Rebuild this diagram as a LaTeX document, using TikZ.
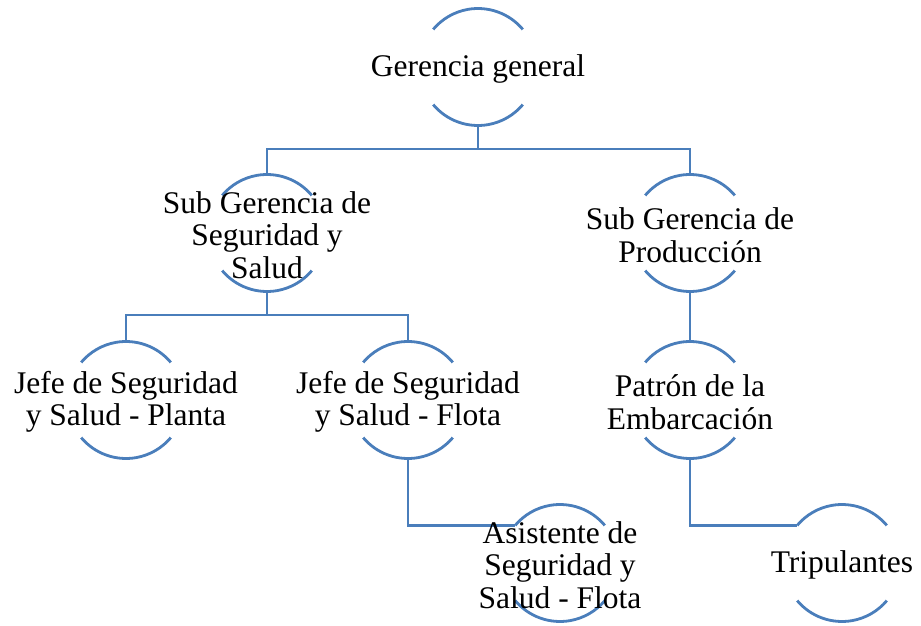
\documentclass[tikz,border=0pt]{standalone}
\usepackage{fontspec}
\setmainfont{Liberation Serif}
\definecolor{orgblue}{HTML}{4A7EBB}
\begin{document}
\begin{tikzpicture}[x=1pt,y=1pt,
 ring/.style={circle, minimum size=117pt, inner sep=0pt, outer sep=0pt, draw=none},
 lbl/.style={align=center, inner sep=0pt, yshift=-2pt, font=\fontsize{31.5}{32.5}\selectfont},
 wire/.style={draw=orgblue, line width=2.8pt},
 arcline/.style={draw=orgblue, line width=2.8pt}]
\useasboundingbox (0,0) rectangle (921,-626);
% ring shapes
\node[ring] (gg)  at (478,-67) {};
\node[ring] (sgs) at (267,-233) {};
\node[ring] (sgp) at (690,-233) {};
\node[ring] (jp)  at (126,-400) {};
\node[ring] (jfl) at (408,-400) {};
\node[ring] (pat) at (690,-400) {};
\node[ring] (asi) at (560,-563) {};
\node[ring] (tri) at (842,-563) {};
% connectors
\coordinate (b1) at (478,-149);
\coordinate (b2) at (267,-315);
\draw[wire] (gg.south) -- (b1);
\draw[wire] (sgs.north) |- (b1) -| (sgp.north);
\draw[wire] (sgs.south) -- (b2);
\draw[wire] (jp.north) |- (b2) -| (jfl.north);
\draw[wire] (sgp.south) -- (pat.north);
\draw[wire] (jfl.south) |- (asi.140);
\draw[wire] (pat.south) |- (tri.140);
% arcs
\foreach \n in {gg,sgs,sgp,jp,jfl,pat,asi,tri}{
  \draw[arcline] (\n.40) arc[start angle=40,end angle=140,radius=58.5pt];
  \draw[arcline] (\n.220) arc[start angle=220,end angle=320,radius=58.5pt];
}
% labels
\node[lbl] (ggt)  at (gg)  {Gerencia general};
\node[lbl] (sgst) at (sgs) {Sub Gerencia de\\Seguridad y\\Salud};
\node[lbl] (sgpt) at (sgp) {Sub Gerencia de\\Producción};
\node[lbl] (jpt)  at (jp)  {Jefe de Seguridad\\y Salud - Planta};
\node[lbl] (jflt) at (jfl) {Jefe de Seguridad\\y Salud - Flota};
\node[lbl] (patt) at (pat) {Patrón de la\\Embarcación};
\node[lbl] (asit) at (asi) {Asistente de\\Seguridad y\\Salud - Flota};
\node[lbl] (trit) at (tri) {Tripulantes};
\end{tikzpicture}
\end{document}
